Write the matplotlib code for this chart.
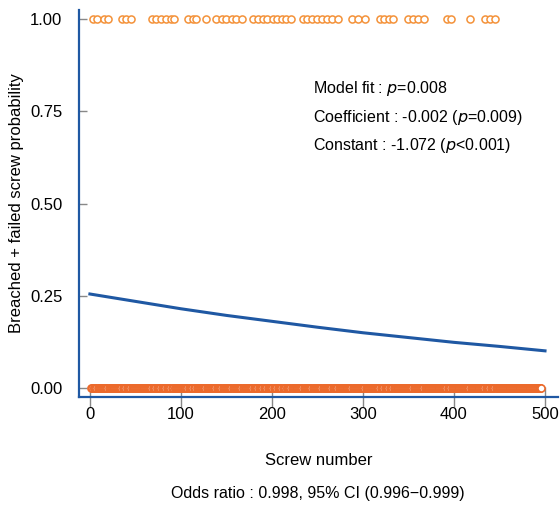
import numpy as np
import matplotlib
matplotlib.use("Agg")
import matplotlib.pyplot as plt

plt.rcParams['font.family'] = ['Liberation Sans', 'DejaVu Sans']

# screws that breached / failed (y = 1), read from the top row
failed = [3, 8, 15, 20, 35, 40, 45, 68, 73, 78, 84, 89, 92, 108, 113, 117,
          128, 139, 145, 150, 156, 161, 167, 179, 185, 190, 195, 201, 206,
          211, 215, 221, 234, 239, 244, 249, 255, 260, 266, 273, 288, 295,
          302, 319, 323, 329, 333, 350, 355, 361, 367, 392, 397, 418, 434,
          440, 445]
n_screws = 496
# all other screws did not fail (y = 0)
ok = np.setdiff1d(np.arange(1, n_screws + 1), failed)

# fitted logistic curve
curve_x = [0, 50, 100, 150, 200, 250, 300, 350, 400, 450, 500]
curve_p = [0.255, 0.235, 0.215, 0.197, 0.181, 0.165, 0.150, 0.137, 0.124, 0.113, 0.101]

xticks = [0, 100, 200, 300, 400, 500]
yticks = [0.0, 0.25, 0.5, 0.75, 1.0]

blue = '#1f58a3'
orange = '#f4923a'
red_orange = '#ec6a2c'

fig = plt.figure(figsize=(5.6, 5.07), dpi=100)
ax = fig.add_axes([0.141, 0.217, 0.855, 0.763])

ax.scatter(ok, np.zeros(len(ok)), s=26, facecolor='white', edgecolor=red_orange,
           linewidth=1.2, zorder=3)
ax.scatter(failed, np.ones(len(failed)), s=26, facecolor='white', edgecolor=orange,
           linewidth=1.1, zorder=3)
ax.plot(curve_x, curve_p, color=blue, linewidth=2.2, zorder=4)

ax.set_xlim(-12, 514)
ax.set_ylim(-0.024, 1.024)
ax.set_xticks(xticks)
ax.set_yticks(yticks)
ax.set_yticklabels(['0.00', '0.25', '0.50', '0.75', '1.00'])

for s in ['top', 'right']:
    ax.spines[s].set_visible(False)
for s in ['left', 'bottom']:
    ax.spines[s].set_color(blue)
    ax.spines[s].set_linewidth(1.6)

ax.tick_params(axis='y', direction='in', length=6, color='#888888', width=1,
               labelsize=12, pad=12)
ax.tick_params(axis='x', direction='inout', length=15, color='#888888', width=1,
               labelsize=12, pad=0)

ax.set_ylabel('Breached + failed screw probability', fontsize=12, labelpad=4)
ax.set_xlabel('Screw number', fontsize=12, labelpad=22)
fig.text(0.568, 0.017, 'Odds ratio : 0.998, 95% CI (0.996\u22120.999)',
         ha='center', fontsize=11.5)

ax.text(245, 0.813, 'Model fit : $p$=0.008', fontsize=11.5, va='center')
ax.text(245, 0.734, 'Coefficient : -0.002 ($p$=0.009)', fontsize=11.5, va='center')
ax.text(245, 0.656, 'Constant : -1.072 ($p$<0.001)', fontsize=11.5, va='center')

fig.savefig('out.png', dpi=100)
